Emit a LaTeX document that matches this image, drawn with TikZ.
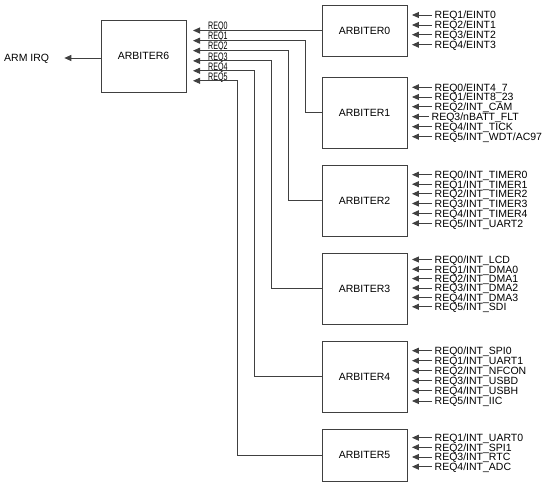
\documentclass[tikz,border=0pt]{standalone}
\usepackage{fontspec}
\setmainfont{Liberation Sans}
\usepackage{xcolor}
\usepackage{tikz}
\usetikzlibrary{arrows.meta, positioning, calc}

\colorlet{wirecol}{black!75}

\begin{document}
\begin{tikzpicture}[
  x=1pt, y=-1pt,
  arbox/.style  = {draw=wirecol, line width=0.9pt, minimum width=85pt,
                   inner sep=0pt, font=\fontsize{10.5}{12}\selectfont},
  inlbl/.style  = {anchor=west, inner sep=2.5pt, text height=7.6pt,
                   text depth=0pt, font=\fontsize{10.5}{12}\selectfont},
  reqlbl/.style = {anchor=base west, inner sep=0pt,
                   font=\fontsize{10.8}{12}\selectfont},
  inarr/.style  = {-{Triangle[length=7pt,width=6pt]}, line width=0.9pt,
                   wirecol, shorten >=4.5pt},
  busarr/.style = {-{Triangle[length=7pt,width=6pt]}, line width=0.9pt,
                   wirecol, shorten >=7pt},
]
\useasboundingbox (0,0) rectangle (549,484);

%% arbiters
\node[arbox, minimum height=72pt] (arb6) at (143.5, 56)  {ARBITER6};
\node[arbox, minimum height=51pt] (arb0) at (364.5, 30.5) {ARBITER0};
\node[arbox, minimum height=71pt] (arb1) at (364.5, 112.5) {ARBITER1};
\node[arbox, minimum height=71pt] (arb2) at (364.5, 200.5) {ARBITER2};
\node[arbox, minimum height=71pt] (arb3) at (364.5, 288.5) {ARBITER3};
\node[arbox, minimum height=71pt] (arb4) at (364.5, 376.5) {ARBITER4};
\node[arbox, minimum height=52pt] (arb5) at (364.5, 455)  {ARBITER5};

%% output
\node[inlbl, inner sep=0pt] (irq) at (4, 58) {ARM IRQ};
\draw[busarr, shorten >=15pt] (arb6.west |- irq.east) -- (irq.east);

%% request lines into ARBITER6
\coordinate (q0) at (186, 30.5);
\coordinate (q1) at (186, 40.7);
\coordinate (q2) at (186, 50.7);
\coordinate (q3) at (186, 60.9);
\coordinate (q4) at (186, 70.8);
\coordinate (q5) at (186, 80.8);
\coordinate (v1) at (305, 0);
\coordinate (v2) at (288, 0);
\coordinate (v3) at (271.5, 0);
\coordinate (v4) at (254.5, 0);
\coordinate (v5) at (237.5, 0);

\node[reqlbl] (lq0) at (208, 29.8) {\scalebox{0.66}[1]{REQ0}};
\node[reqlbl] (lq1) at (208, 40)   {\scalebox{0.66}[1]{REQ1}};
\node[reqlbl] (lq2) at (208, 50)   {\scalebox{0.66}[1]{REQ2}};
\node[reqlbl] (lq3) at (208, 60.2) {\scalebox{0.66}[1]{REQ3}};
\node[reqlbl] (lq4) at (208, 70.1) {\scalebox{0.66}[1]{REQ4}};
\node[reqlbl] (lq5) at (208, 80.1) {\scalebox{0.66}[1]{REQ5}};

\draw[busarr] (arb0.west) -- (q0);
\draw[busarr] (arb1.west) -| (v1 |- q1) -- (q1);
\draw[busarr] (arb2.west) -| (v2 |- q2) -- (q2);
\draw[busarr] (arb3.west) -| (v3 |- q3) -- (q3);
\draw[busarr] (arb4.west) -| (v4 |- q4) -- (q4);
\draw[busarr] (arb5.west) -| (v5 |- q5) -- (q5);

%% ARBITER0 inputs
\node[inlbl] (a0r1) at (432, 15)   {REQ1/EINT0};
\node[inlbl] (a0r2) at (432, 25)   {REQ2/EINT1};
\node[inlbl] (a0r3) at (432, 34.7) {REQ3/EINT2};
\node[inlbl] (a0r4) at (432, 44.7) {REQ4/EINT3};
\draw[inarr] (a0r1.west) -- (a0r1.west -| arb0.east);
\draw[inarr] (a0r2.west) -- (a0r2.west -| arb0.east);
\draw[inarr] (a0r3.west) -- (a0r3.west -| arb0.east);
\draw[inarr] (a0r4.west) -- (a0r4.west -| arb0.east);

%% ARBITER1 inputs
\node[inlbl] (a1r0) at (432, 87.3)  {REQ0/EINT4\_7};
\node[inlbl] (a1r1) at (432, 97)    {REQ1/EINT8\_23};
\node[inlbl] (a1r2) at (432, 106.7) {REQ2/INT\_CAM};
\node[inlbl] (a1r3) at (429, 116.7) {REQ3/nBATT\_FLT};
\node[inlbl] (a1r4) at (432, 126.7) {REQ4/INT\_TICK};
\node[inlbl] (a1r5) at (432, 136.7) {REQ5/INT\_WDT/AC97};
\draw[inarr] (a1r0.west) -- (a1r0.west -| arb1.east);
\draw[inarr] (a1r1.west) -- (a1r1.west -| arb1.east);
\draw[inarr] (a1r2.west) -- (a1r2.west -| arb1.east);
\draw[inarr] (a1r3.west) -- (a1r3.west -| arb1.east);
\draw[inarr] (a1r4.west) -- (a1r4.west -| arb1.east);
\draw[inarr] (a1r5.west) -- (a1r5.west -| arb1.east);

%% ARBITER2 inputs
\node[inlbl] (a2r0) at (432, 174.7) {REQ0/INT\_TIMER0};
\node[inlbl] (a2r1) at (432, 184.2) {REQ1/INT\_TIMER1};
\node[inlbl] (a2r2) at (432, 193.8) {REQ2/INT\_TIMER2};
\node[inlbl] (a2r3) at (432, 203.5) {REQ3/INT\_TIMER3};
\node[inlbl] (a2r4) at (432, 213.3) {REQ4/INT\_TIMER4};
\node[inlbl] (a2r5) at (432, 223.3) {REQ5/INT\_UART2};
\draw[inarr] (a2r0.west) -- (a2r0.west -| arb2.east);
\draw[inarr] (a2r1.west) -- (a2r1.west -| arb2.east);
\draw[inarr] (a2r2.west) -- (a2r2.west -| arb2.east);
\draw[inarr] (a2r3.west) -- (a2r3.west -| arb2.east);
\draw[inarr] (a2r4.west) -- (a2r4.west -| arb2.east);
\draw[inarr] (a2r5.west) -- (a2r5.west -| arb2.east);

%% ARBITER3 inputs
\node[inlbl] (a3r0) at (432, 259.5) {REQ0/INT\_LCD};
\node[inlbl] (a3r1) at (432, 269.2) {REQ1/INT\_DMA0};
\node[inlbl] (a3r2) at (432, 278.6) {REQ2/INT\_DMA1};
\node[inlbl] (a3r3) at (432, 288)   {REQ3/INT\_DMA2};
\node[inlbl] (a3r4) at (432, 297.4) {REQ4/INT\_DMA3};
\node[inlbl] (a3r5) at (432, 306.8) {REQ5/INT\_SDI};
\draw[inarr] (a3r0.west) -- (a3r0.west -| arb3.east);
\draw[inarr] (a3r1.west) -- (a3r1.west -| arb3.east);
\draw[inarr] (a3r2.west) -- (a3r2.west -| arb3.east);
\draw[inarr] (a3r3.west) -- (a3r3.west -| arb3.east);
\draw[inarr] (a3r4.west) -- (a3r4.west -| arb3.east);
\draw[inarr] (a3r5.west) -- (a3r5.west -| arb3.east);

%% ARBITER4 inputs
\node[inlbl] (a4r0) at (432, 350.7) {REQ0/INT\_SPI0};
\node[inlbl] (a4r1) at (432, 360.7) {REQ1/INT\_UART1};
\node[inlbl] (a4r2) at (432, 370.7) {REQ2/INT\_NFCON};
\node[inlbl] (a4r3) at (432, 380.7) {REQ3/INT\_USBD};
\node[inlbl] (a4r4) at (432, 390.7) {REQ4/INT\_USBH};
\node[inlbl] (a4r5) at (432, 401)   {REQ5/INT\_IIC};
\draw[inarr] (a4r0.west) -- (a4r0.west -| arb4.east);
\draw[inarr] (a4r1.west) -- (a4r1.west -| arb4.east);
\draw[inarr] (a4r2.west) -- (a4r2.west -| arb4.east);
\draw[inarr] (a4r3.west) -- (a4r3.west -| arb4.east);
\draw[inarr] (a4r4.west) -- (a4r4.west -| arb4.east);
\draw[inarr] (a4r5.west) -- (a4r5.west -| arb4.east);

%% ARBITER5 inputs
\node[inlbl] (a5r1) at (432, 437.7) {REQ1/INT\_UART0};
\node[inlbl] (a5r2) at (432, 447.3) {REQ2/INT\_SPI1};
\node[inlbl] (a5r3) at (432, 457)   {REQ3/INT\_RTC};
\node[inlbl] (a5r4) at (432, 466.7) {REQ4/INT\_ADC};
\draw[inarr] (a5r1.west) -- (a5r1.west -| arb5.east);
\draw[inarr] (a5r2.west) -- (a5r2.west -| arb5.east);
\draw[inarr] (a5r3.west) -- (a5r3.west -| arb5.east);
\draw[inarr] (a5r4.west) -- (a5r4.west -| arb5.east);

\end{tikzpicture}
\end{document}
